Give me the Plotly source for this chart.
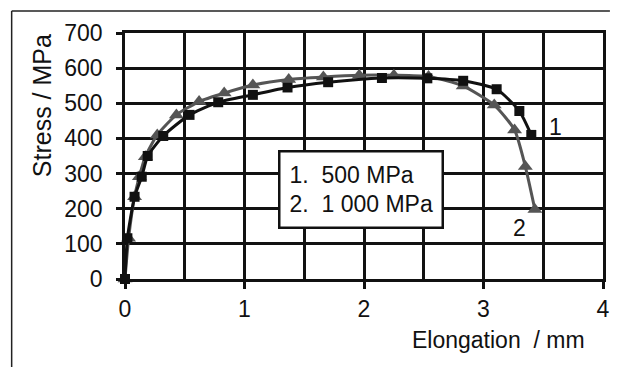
import plotly.graph_objects as go

# Series 1: 500 MPa (black squares)
x1 = [0, 0.02, 0.08, 0.14, 0.19, 0.32, 0.54, 0.78, 1.07, 1.36, 1.70, 2.15, 2.53, 2.83, 3.11, 3.30, 3.40]
y1 = [0, 116, 234, 291, 350, 407, 467, 503, 524, 545, 560, 572, 571, 564, 540, 478, 410]

# Series 2: 1 000 MPa (grey triangles)
x2 = [0, 0.03, 0.08, 0.12, 0.17, 0.27, 0.43, 0.62, 0.83, 1.07, 1.37, 1.66, 1.96, 2.25, 2.54, 2.83, 3.09, 3.26, 3.35, 3.43]
y2 = [0, 116, 234, 291, 348, 410, 467, 505, 529, 552, 568, 575, 580, 580, 576, 549, 495, 424, 320, 198]

x_ticks = [0, 1, 2, 3, 4]
y_ticks = [0, 100, 200, 300, 400, 500, 600, 700]

FONT = "Liberation Sans, Arial, sans-serif"
INK = "#111111"
FS = 23

fig = go.Figure()
fig.add_trace(go.Scatter(
    x=x2, y=y2, mode="lines+markers", cliponaxis=False,
    line=dict(color="#555555", width=3, shape="spline", smoothing=0.6),
    marker=dict(symbol="triangle-up", size=13, color="#555555"),
    showlegend=False))
fig.add_trace(go.Scatter(
    x=x1, y=y1, mode="lines+markers", cliponaxis=False,
    line=dict(color=INK, width=3, shape="spline", smoothing=0.6),
    marker=dict(symbol="square", size=10, color=INK),
    showlegend=False))

L, R, T, B = 125, 7, 33, 88
W, H = 617, 367
pw, ph = W - L - R, H - T - B

def px(xp):
    return (xp - L) / pw

def py(yp):
    return (H - B - yp) / ph

fig.update_layout(
    width=W, height=H,
    margin=dict(l=L, r=R, t=T, b=B, pad=0),
    paper_bgcolor="white", plot_bgcolor="white",
    font=dict(family=FONT, size=FS, color=INK),
    xaxis=dict(range=[0, 4], tickvals=x_ticks, ticktext=[str(v) for v in x_ticks],
               showgrid=True, gridcolor=INK, gridwidth=2.5,
               minor=dict(dtick=0.5, showgrid=True, gridcolor=INK, gridwidth=2.5),
               ticks="outside", ticklen=7, tickwidth=2.5, tickcolor=INK,
               showline=True, mirror=True, linecolor=INK, linewidth=2.5,
               zeroline=False, ticklabelstandoff=1,
               tickfont=dict(size=FS)),
    yaxis=dict(range=[0, 700], tickvals=y_ticks, ticktext=[str(v) for v in y_ticks],
               showgrid=True, gridcolor=INK, gridwidth=2.5,
               ticks="outside", ticklen=6, tickwidth=2.5, tickcolor=INK,
               showline=True, mirror=True, linecolor=INK, linewidth=2.5,
               zeroline=False, ticklabelstandoff=9,
               tickfont=dict(size=FS)),
)

# Frame lines (top and left)
fig.add_shape(type="line", xref="paper", yref="paper",
              x0=px(10), x1=px(617), y0=py(11), y1=py(11),
              line=dict(color="#222222", width=1.5))
fig.add_shape(type="line", xref="paper", yref="paper",
              x0=px(10), x1=px(10), y0=py(11), y1=py(367),
              line=dict(color="#222222", width=1.5))

# Axis titles
fig.add_annotation(xref="paper", yref="paper", x=px(504), y=py(340),
                   text="Elongation \u00a0/ mm", showarrow=False,
                   font=dict(size=FS), xanchor="center", yanchor="middle")
fig.add_annotation(xref="paper", yref="paper", x=px(41), y=py(106),
                   text="Stress / MPa", showarrow=False, textangle=-90,
                   font=dict(size=25), xanchor="center", yanchor="middle")

# Legend box
fig.add_annotation(xref="paper", yref="paper", x=px(280), y=py(150),
                   text="1.\u00a0 500 MPa<br>2.\u00a0 1 000 MPa",
                   showarrow=False, align="left", xanchor="left", yanchor="top",
                   bgcolor="white", bordercolor=INK, borderwidth=2.5,
                   borderpad=9, font=dict(size=FS))

# Curve labels
fig.add_annotation(x=3.60, y=432, text="1", showarrow=False, font=dict(size=FS))
fig.add_annotation(x=3.30, y=145, text="2", showarrow=False, font=dict(size=FS))

fig.write_html("out.html")
